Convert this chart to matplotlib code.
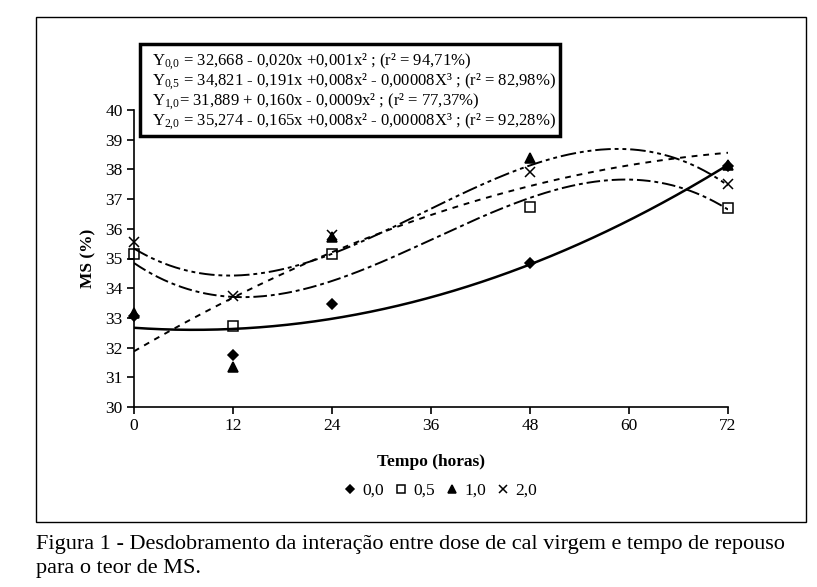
import numpy as np
import matplotlib
matplotlib.use('Agg')
import matplotlib.pyplot as plt
from matplotlib.patches import Rectangle
from matplotlib.lines import Line2D

plt.rcParams['font.family'] = ['Liberation Serif', 'DejaVu Serif']
plt.rcParams['mathtext.fontset'] = 'custom'
plt.rcParams['mathtext.rm'] = 'Liberation Serif'
plt.rcParams['mathtext.it'] = 'Liberation Serif:italic'

# tempo (horas)
tempo = [0, 12, 24, 48, 72]
# MS (%) per dose de cal virgem
ms_00 = [33.05, 31.75, 33.47, 34.85, 38.10]
ms_05 = [35.15, 32.74, 35.15, 36.74, 36.71]
ms_10 = [33.16, 31.35, 35.73, 38.38, 38.15]
ms_20 = [35.55, 33.74, 35.80, 37.92, 37.50]

doses = ['0,0', '0,5', '1,0', '2,0']
graus = [2, 3, 2, 3]  # grau do polinomio de cada linha de tendencia

equacoes = [
    'Y$_{0{,}0}$ = 32,668 - 0,020x +0,001x\u00b2 ; (r\u00b2 = 94,71%)',
    'Y$_{0{,}5}$ = 34,821 - 0,191x +0,008x\u00b2 - 0,00008X\u00b3 ; (r\u00b2 = 82,98%)',
    'Y$_{1{,}0}$= 31,889 + 0,160x - 0,0009x\u00b2 ; (r\u00b2 = 77,37%)',
    'Y$_{2{,}0}$ = 35,274 - 0,165x +0,008x\u00b2 - 0,00008X\u00b3 ; (r\u00b2 = 92,28%)',
]

xticks = [0, 12, 24, 36, 48, 60, 72]
yticks = list(range(30, 41))

marcadores = [('D', 'k', 5), ('s', 'none', 7), ('^', 'k', 7), ('x', 'k', 7)]
estilos = ['-', (0, (7, 2, 2, 2)), (0, (3, 3)), (0, (8, 2, 2, 2, 2, 2))]
larguras = [1.8, 1.4, 1.4, 1.4]

fig = plt.figure(figsize=(8.17, 5.87), dpi=100)
ax = fig.add_axes([134 / 817, 1 - 407 / 587, (728 - 134) / 817, (407 - 110) / 587])

xs = np.linspace(0, 72, 300)
series = [ms_00, ms_05, ms_10, ms_20]
for ys, g, mk, ls, lw in zip(series, graus, marcadores, estilos, larguras):
    coef = np.polyfit(tempo, ys, g)
    ax.plot(xs, np.polyval(coef, xs), color='k', linestyle=ls, linewidth=lw, zorder=2)
    ax.plot(tempo, ys, linestyle='none', marker=mk[0], markerfacecolor=mk[1],
            markeredgecolor='k', markersize=mk[2], markeredgewidth=1.1, zorder=3, clip_on=False)

ax.set_xlim(0, 72)
ax.set_ylim(30, 40)
ax.set_xticks(xticks)
ax.set_yticks(yticks)
ax.spines['top'].set_visible(False)
ax.spines['right'].set_visible(False)
for s in ['left', 'bottom']:
    ax.spines[s].set_linewidth(1.2)
ax.tick_params(direction='out', length=5, width=1.2, labelsize=12.5, pad=3)
ax.set_facecolor('none')

fig.text(431 / 817, 1 - 462 / 587, 'Tempo (horas)', ha='center', va='center',
         fontsize=12.5, fontweight='bold')
fig.text(88 / 817, 1 - 258 / 587, 'MS (%)', ha='center', va='center',
         fontsize=12.5, fontweight='bold', rotation=90)

# caixa com as equacoes
fig.patches.append(Rectangle((140 / 817, 1 - 136 / 587), (560 - 140) / 817, (136 - 44) / 587,
                             transform=fig.transFigure, facecolor='white', edgecolor='k',
                             linewidth=2.5, zorder=5))
for i, eq in enumerate(equacoes):
    fig.text(152 / 817, 1 - (62 + i * 19.7) / 587, eq, ha='left', va='center',
             fontsize=12, zorder=6)

# legenda
handles = [Line2D([], [], linestyle='none', marker=m[0], markerfacecolor=m[1],
                  markeredgecolor='k', markersize=m[2] - 1, markeredgewidth=1.1)
           for m in marcadores]
fig.legend(handles, doses, loc='center', bbox_to_anchor=(440 / 817, 1 - 491 / 587),
           ncol=4, frameon=False, fontsize=12.5, handlelength=0.8, handletextpad=0.3,
           columnspacing=0.6, borderpad=0)

# moldura externa
fig.patches.append(Rectangle((36 / 817, 1 - 522 / 587), (806 - 36) / 817, (522 - 17) / 587,
                             transform=fig.transFigure, facecolor='none', edgecolor='k',
                             linewidth=1.0))

fig.text(36 / 817, 1 - 545 / 587,
         'Figura 1 - Desdobramento da intera\u00e7\u00e3o entre dose de cal virgem e tempo de repouso',
         ha='left', va='center', fontsize=16)
fig.text(36 / 817, 1 - 568 / 587, 'para o teor de MS.', ha='left', va='center', fontsize=16)

fig.savefig('out.png', dpi=100)
